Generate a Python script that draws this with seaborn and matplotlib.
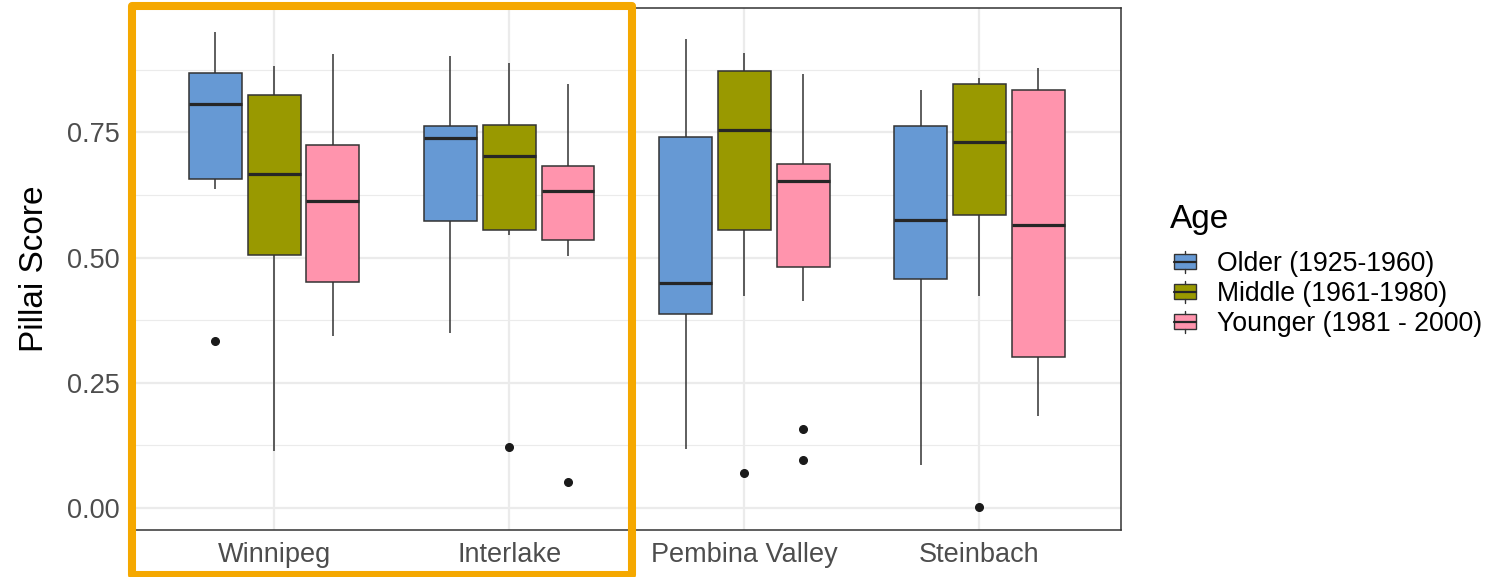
import matplotlib
matplotlib.use("Agg")
import matplotlib.pyplot as plt
import seaborn as sns
import pandas as pd
from matplotlib.patches import Patch, Rectangle
from matplotlib.lines import Line2D
from matplotlib.legend_handler import HandlerBase

# ---------------- data ----------------
regions = ["Winnipeg", "Interlake", "Pembina Valley", "Steinbach"]
ages = ["Older (1925-1960)", "Middle (1961-1980)", "Younger (1981 - 2000)"]
colors = ["#6699D4", "#999900", "#FF94AD"]

# five-number summaries per region (Winnipeg, Interlake, Pembina Valley, Steinbach)
older_low = [0.637, 0.350, 0.117, 0.086]
older_q1 = [0.657, 0.574, 0.387, 0.457]
older_med = [0.806, 0.739, 0.449, 0.575]
older_q3 = [0.869, 0.763, 0.741, 0.763]
older_high = [0.951, 0.902, 0.937, 0.834]
older_out = [[0.333], [], [], []]

middle_low = [0.114, 0.545, 0.424, 0.424]
middle_q1 = [0.506, 0.556, 0.555, 0.585]
middle_med = [0.666, 0.703, 0.754, 0.731]
middle_q3 = [0.825, 0.764, 0.872, 0.846]
middle_high = [0.882, 0.889, 0.908, 0.858]
middle_out = [[], [0.122], [0.070], [0.002]]

younger_low = [0.344, 0.504, 0.414, 0.184]
younger_q1 = [0.451, 0.535, 0.482, 0.301]
younger_med = [0.613, 0.633, 0.653, 0.566]
younger_q3 = [0.724, 0.683, 0.686, 0.835]
younger_high = [0.906, 0.847, 0.867, 0.878]
younger_out = [[], [0.052], [0.158, 0.095], []]

summaries = {
    ages[0]: (older_low, older_q1, older_med, older_q3, older_high, older_out),
    ages[1]: (middle_low, middle_q1, middle_med, middle_q3, middle_high, middle_out),
    ages[2]: (younger_low, younger_q1, younger_med, younger_q3, younger_high, younger_out),
}

# Build a table of observations that reproduces each summary (13 values per group)
rows = []
for age, (lo, q1, med, q3, hi, out) in summaries.items():
    for i, reg in enumerate(regions):
        lows = list(out[i]) + [lo[i]] * (3 - len(out[i]))
        vals = lows + [q1[i]] * 3 + [med[i]] + [q3[i]] * 3 + [hi[i]] * 3
        for v in vals:
            rows.append({"Region": reg, "Age": age, "Pillai": v})
df = pd.DataFrame(rows)

# ---------------- figure ----------------
sns.set_theme(style="white")
plt.rcParams["font.family"] = ["Liberation Sans", "DejaVu Sans"]

fig = plt.figure(figsize=(14.97, 5.77), dpi=100)
ax = fig.add_axes([133 / 1497, 1 - 530 / 577, (1120.5 - 133) / 1497, (530 - 8) / 577])

sns.boxplot(
    data=df, x="Region", y="Pillai", hue="Age",
    order=regions, hue_order=ages, palette=colors,
    width=0.75, gap=0.1, linecolor="#333333", linewidth=1.1,
    whis=1.5, showcaps=False, legend=False, ax=ax, saturation=1,
    medianprops=dict(linewidth=2.3, color="#262626"),
    whiskerprops=dict(linewidth=1.1, color="#333333"),
    flierprops=dict(marker="o", markerfacecolor="#1a1a1a",
                    markeredgecolor="#1a1a1a", markersize=5.5),
)

ax.set_xlim(-0.6, 3.6)
ax.set_ylim(-0.0442, 0.9986)
ax.set_yticks([0.0, 0.25, 0.5, 0.75])
ax.set_yticklabels(["0.00", "0.25", "0.50", "0.75"])
ax.set_yticks([0.125, 0.375, 0.625, 0.875], minor=True)
ax.grid(which="major", color="#EBEBEB", linewidth=1.6)
ax.grid(which="minor", axis="y", color="#EBEBEB", linewidth=0.8)
ax.set_axisbelow(True)

for s in ax.spines.values():
    s.set_visible(True)
    s.set_color("#333333")
    s.set_linewidth(1.1)

ax.tick_params(axis="both", which="major", direction="out", length=4.5, width=1.1,
               color="#333333", labelsize=19.5, labelcolor="#4D4D4D")
ax.tick_params(axis="y", pad=5)
ax.tick_params(axis="x", pad=4)
ax.tick_params(which="minor", length=0)
ax.set_xlabel("")
ax.set_ylabel("Pillai Score", fontsize=24, color="black", labelpad=12)


class BoxKey(HandlerBase):
    def create_artists(self, legend, orig_handle, xdescent, ydescent,
                       width, height, fontsize, trans):
        fc = orig_handle.get_facecolor()
        x0, y0 = -xdescent, -ydescent
        bh = height * 0.68
        by = y0 + (height - bh) / 2
        cx = x0 + width / 2
        rect = Rectangle((x0, by), width, bh, facecolor=fc, edgecolor="#333333",
                         lw=1.0, transform=trans)
        top = Line2D([cx, cx], [by + bh, y0 + height], color="#333333", lw=1.0, transform=trans)
        bot = Line2D([cx, cx], [y0, by], color="#333333", lw=1.0, transform=trans)
        med = Line2D([x0, x0 + width], [by + bh / 2] * 2, color="#262626", lw=1.6, transform=trans)
        return [rect, top, bot, med]


handles = [Patch(facecolor=c) for c in colors]
leg = fig.legend(
    handles, ages, loc="center left",
    bbox_to_anchor=(1174 / 1497, 1 - 294 / 577), frameon=False,
    fontsize=19.2, borderpad=0, borderaxespad=0,
    handlelength=0.84, handleheight=0.9, handletextpad=0.79,
    labelspacing=0.14, labelcolor="black",
    handler_map={Patch: BoxKey()},
)
fig.text(1170 / 1497, 1 - 228 / 577, "Age", fontsize=24, color="black",
         ha="left", va="baseline")

# orange highlight rectangle
hl = Rectangle((131.5 / 1497, 1 - 575 / 577), 500 / 1497, 569 / 577,
               transform=fig.transFigure, fill=False, edgecolor="#F5A800",
               linewidth=5.8, joinstyle="round", clip_on=False, zorder=10)
fig.add_artist(hl)

fig.savefig("out.png", dpi=100)
